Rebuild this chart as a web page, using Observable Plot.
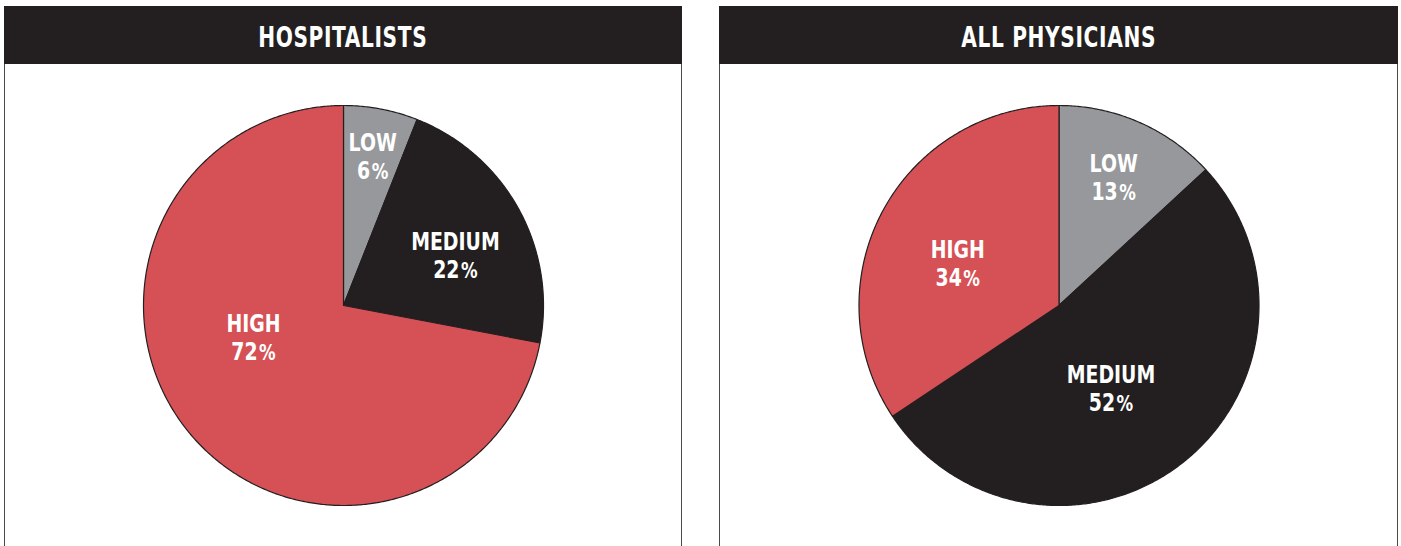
<!DOCTYPE html>
<html>
<head>
<meta charset="utf-8">
<script src="https://cdn.jsdelivr.net/npm/d3@7"></script>
<script src="https://cdn.jsdelivr.net/npm/@observablehq/plot@0.6"></script>
<style>
  html, body { margin: 0; padding: 0; background: #fff; }
  body { width: 1401px; height: 546px; position: relative; overflow: hidden; }
  .panel { position: absolute; top: 6px; height: 560px; box-sizing: border-box;
           border-left: 1px solid #4a4a4a; border-right: 1px solid #4a4a4a; background: #fff; }
  .header { height: 58px; background: #231f20; color: #fff; display: flex; align-items: center;
            justify-content: center; font-family: "DejaVu Sans Condensed", "Liberation Sans Narrow", sans-serif;
            font-weight: bold; font-size: 28px; letter-spacing: 0.8px; padding-top: 5px; box-sizing: border-box;
            margin-left: -1px; margin-right: -1px; }
  .header span { display: inline-block; transform: scaleX(0.80); white-space: nowrap; }
  .panel svg { display: block; }
</style>
</head>
<body>
<div id="p0" class="panel" style="left:4px; width:678px;"></div>
<div id="p1" class="panel" style="left:719px; width:679px;"></div>
<script>
// ---- data ----
const panelTitles = ["HOSPITALISTS", "ALL PHYSICIANS"];
const categories = ["LOW", "MEDIUM", "HIGH"];
const hospitalists = [6, 22, 72];
const allPhysicians = [13, 52, 34];
const seriesList = [hospitalists, allPhysicians];

// ---- styles / layout ----
const sliceColors = ["#97989b", "#231f20", "#d65155"];
const labelFont = '"DejaVu Sans Condensed", "Liberation Sans Narrow", sans-serif';
const squeeze = 0.84; // horizontal condensing of label glyphs
// label placement inside each slice: [angle in degrees clockwise from 12 o'clock, radius fraction]
const labelPlacement = [
  [[11, 0.765], [65.5, 0.615], [251, 0.476]],
  [[23, 0.70], [147.6, 0.485], [293, 0.55]]
];

const R = 200; // pixels per data unit (pie radius = 1)
const ctx = document.createElement("canvas").getContext("2d");
function textW(s, size) { ctx.font = `bold ${size}px ${labelFont}`; return ctx.measureText(s).width * squeeze; }

seriesList.forEach((values, pi) => {
  const host = document.getElementById("p" + pi);
  const head = document.createElement("div");
  head.className = "header";
  const span = document.createElement("span");
  span.textContent = panelTitles[pi];
  head.appendChild(span);
  host.appendChild(head);

  const W = pi === 0 ? 676 : 677;
  const H = 482;
  const total = d3.sum(values);
  // build slice polygons from values
  const pts = [];
  let acc = 0;
  values.forEach((v, i) => {
    const a0 = acc / total * 2 * Math.PI;
    acc += v;
    const a1 = acc / total * 2 * Math.PI;
    const n = Math.max(2, Math.ceil((a1 - a0) / (Math.PI / 360)));
    pts.push({cat: categories[i], x: 0, y: 0});
    for (let k = 0; k <= n; k++) {
      const a = a0 + (a1 - a0) * k / n;
      pts.push({cat: categories[i], x: Math.sin(a), y: Math.cos(a)});
    }
  });

  const labels = values.map((v, i) => {
    const [deg, r] = labelPlacement[pi][i];
    const a = deg * Math.PI / 180;
    const cx = r * Math.sin(a), cy = r * Math.cos(a);
    const num = String(v);
    const nw = textW(num, 25), pw = textW("%", 22), gap = 1.5;
    const tot = nw + gap + pw;
    const split = (nw - tot / 2) / R;
    return {name: categories[i], num, x: cx, y: cy, xNum: cx + split, xPct: cx + split + gap / R};
  });

  const chart = Plot.plot({
    width: W, height: H,
    margin: 0,
    x: {domain: [-W / 2 / R, W / 2 / R], axis: null},
    y: {domain: [-(H - 241) / R, 241 / R], axis: null},
    color: {domain: categories, range: sliceColors},
    marks: [
      Plot.line(pts, {x: "x", y: "y", z: "cat", fill: "cat", stroke: "#231f20", strokeWidth: 1.2,
                      curve: "linear-closed", strokeLinejoin: "round"}),
      Plot.text(labels, {x: "x", y: "y", text: "name", fill: "#fff", fontFamily: labelFont, fontWeight: "bold",
                         fontSize: 25, lineAnchor: "bottom", dy: -4.5}),
      Plot.text(labels, {x: "xNum", y: "y", text: "num", fill: "#fff", fontFamily: labelFont, fontWeight: "bold",
                         fontSize: 25, lineAnchor: "bottom", textAnchor: "end", dy: 23.5}),
      Plot.text(labels, {x: "xPct", y: "y", text: () => "%", fill: "#fff", fontFamily: labelFont, fontWeight: "bold",
                         fontSize: 22, lineAnchor: "bottom", textAnchor: "start", dy: 23.5})
    ]
  });
  // condense the label glyphs horizontally around their anchors
  d3.select(chart).selectAll("text").each(function () {
    const t = this.getAttribute("transform") || "";
    this.setAttribute("transform", t + ` scale(${squeeze},1)`);
  });
  host.appendChild(chart);
});
</script>
</body>
</html>
